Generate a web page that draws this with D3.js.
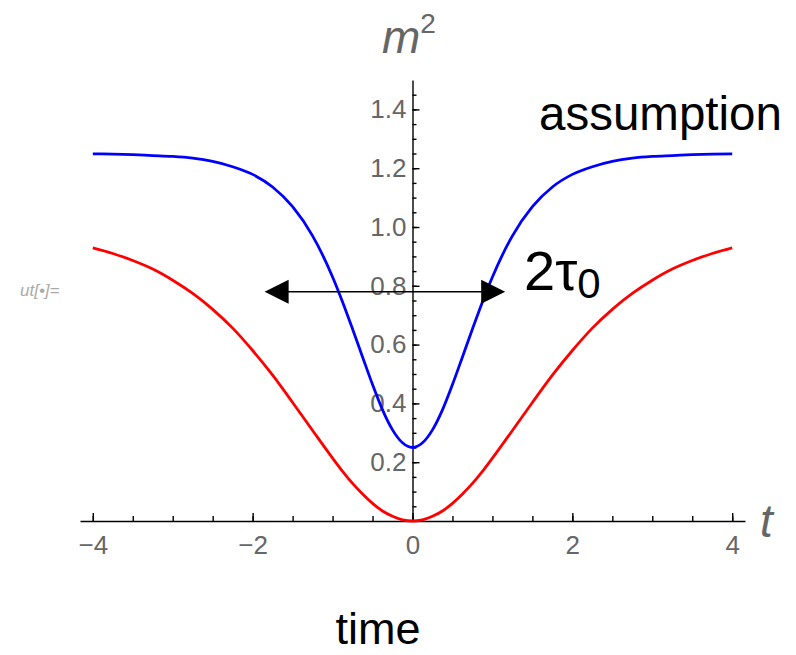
<!DOCTYPE html>
<html>
<head>
<meta charset="utf-8">
<script src="https://cdn.jsdelivr.net/npm/d3@7"></script>
<style>
  body { margin: 0; background: #fff; }
  svg { display: block; font-family: 'Liberation Sans', Arial, sans-serif; }
  .axis path, .axis line { stroke: #000; stroke-width: 1.4; }
  .axis text { fill: #666; font-size: 26px; font-family: 'Liberation Sans', Arial, sans-serif; }
</style>
</head>
<body>
<div id="chart"></div>
<script>
// values (denser samples around the dip)
var tValues = [-4, -3.75, -3.5, -3.25, -3, -2.75, -2.5, -2.25, -2, -1.75, -1.5, -1.25, -1,
    -0.875, -0.75, -0.625, -0.5, -0.375, -0.25, -0.125, 0, 0.125, 0.25, 0.375, 0.5, 0.625, 0.75, 0.875,
    1, 1.25, 1.5, 1.75, 2, 2.25, 2.5, 2.75, 3, 3.25, 3.5, 3.75, 4];
var blueValues = [1.249, 1.248, 1.246, 1.243, 1.24, 1.234, 1.223, 1.205, 1.179, 1.136, 1.069, 0.970, 0.830,
    0.745, 0.653, 0.558, 0.464, 0.378, 0.310, 0.266, 0.25, 0.266, 0.310, 0.378, 0.464, 0.558, 0.653, 0.745,
    0.830, 0.970, 1.069, 1.136, 1.179, 1.205, 1.223, 1.234, 1.24, 1.243, 1.246, 1.248, 1.249];
var redValues = [0.929, 0.910, 0.886, 0.857, 0.819, 0.774, 0.720, 0.656, 0.580, 0.496, 0.403, 0.308, 0.214,
    0.169, 0.128, 0.092, 0.060, 0.034, 0.016, 0.004, 0, 0.004, 0.016, 0.034, 0.060, 0.092, 0.128, 0.169,
    0.214, 0.308, 0.403, 0.496, 0.580, 0.656, 0.720, 0.774, 0.819, 0.857, 0.886, 0.910, 0.929];

var xMajorTicks = [-4, -2, 0, 2, 4];
var yMajorTicks = [0.2, 0.4, 0.6, 0.8, 1.0, 1.2, 1.4];

// the 2 tau_0 arrow
var arrowX = [-1.85, 1.16];
var arrowY = 0.78;

var w = 796, h = 655;

var svg = d3.select('#chart').append('svg')
    .attr('width', w)
    .attr('height', h);

var xScale = d3.scaleLinear()
    .domain([-4.16, 4.16])
    .range([80, 745]);

var yScale = d3.scaleLinear()
    .domain([0, 1.5])
    .range([521, 80]);

var fmtX = function(d) { return d < 0 ? '\u2212' + Math.abs(d) : String(d); };

// x axis: minor ticks then major ticks with labels
svg.append('g')
    .attr('class', 'axis')
    .attr('transform', 'translate(0,' + yScale(0) + ')')
    .call(d3.axisBottom(xScale)
        .tickValues(d3.range(-4, 4.01, 0.5))
        .tickSize(-5)
        .tickSizeOuter(0)
        .tickFormat(''));

svg.append('g')
    .attr('class', 'axis')
    .attr('transform', 'translate(0,' + yScale(0) + ')')
    .call(d3.axisBottom(xScale)
        .tickValues(xMajorTicks)
        .tickSize(-8)
        .tickSizeOuter(0)
        .tickPadding(15)
        .tickFormat(fmtX))
    .call(function(g) { g.select('.domain').remove(); });

// y axis
svg.append('g')
    .attr('class', 'axis')
    .attr('transform', 'translate(' + xScale(0) + ',0)')
    .call(d3.axisLeft(yScale)
        .tickValues(d3.range(0.05, 1.46, 0.05))
        .tickSize(-4)
        .tickSizeOuter(0)
        .tickFormat(''));

svg.append('g')
    .attr('class', 'axis')
    .attr('transform', 'translate(' + xScale(0) + ',0)')
    .call(d3.axisLeft(yScale)
        .tickValues(yMajorTicks)
        .tickSize(-7)
        .tickSizeOuter(0)
        .tickPadding(6)
        .tickFormat(d3.format('.1f')))
    .call(function(g) { g.select('.domain').remove(); });

var line = d3.line()
    .x(function(d) { return xScale(d[0]); })
    .y(function(d) { return yScale(d[1]); })
    .curve(d3.curveMonotoneX);

svg.append('path')
    .datum(d3.zip(tValues, redValues))
    .attr('fill', 'none')
    .attr('stroke', '#ff0000')
    .attr('stroke-width', 2.8)
    .attr('d', line);

svg.append('path')
    .datum(d3.zip(tValues, blueValues))
    .attr('fill', 'none')
    .attr('stroke', '#0000ff')
    .attr('stroke-width', 2.8)
    .attr('d', line);

// arrow
var ay = yScale(arrowY), ax0 = xScale(arrowX[0]), ax1 = xScale(arrowX[1]);
svg.append('line')
    .attr('x1', ax0 + 10).attr('x2', ax1 - 10)
    .attr('y1', ay).attr('y2', ay)
    .attr('stroke', '#000')
    .attr('stroke-width', 1.4);
svg.append('path')
    .attr('d', 'M' + ax0 + ',' + ay + 'L' + (ax0 + 24) + ',' + (ay - 12) + 'L' + (ax0 + 24) + ',' + (ay + 12) + 'Z')
    .attr('fill', '#000');
svg.append('path')
    .attr('d', 'M' + ax1 + ',' + ay + 'L' + (ax1 - 24) + ',' + (ay - 12) + 'L' + (ax1 - 24) + ',' + (ay + 12) + 'Z')
    .attr('fill', '#000');

// labels
var tau = svg.append('text')
    .attr('x', 524)
    .attr('y', 290)
    .attr('font-size', 56)
    .attr('fill', '#000');
tau.append('tspan').text('2\u03c4');
tau.append('tspan').attr('font-size', 42).attr('dy', 8).text('0');

svg.append('text')
    .attr('x', 539)
    .attr('y', 130)
    .attr('font-size', 47.5)
    .attr('fill', '#000')
    .text('assumption');

svg.append('text')
    .attr('x', 378)
    .attr('y', 644)
    .attr('text-anchor', 'middle')
    .attr('font-size', 45)
    .attr('fill', '#000')
    .text('time');

var mLab = svg.append('text')
    .attr('x', 382)
    .attr('y', 53)
    .attr('font-size', 46)
    .attr('font-style', 'italic')
    .attr('fill', '#666');
mLab.append('tspan').text('m');
mLab.append('tspan').attr('font-size', 28).attr('font-style', 'normal').attr('dy', -20).text('2');

svg.append('text')
    .attr('x', 760)
    .attr('y', 537)
    .attr('font-size', 46)
    .attr('font-style', 'italic')
    .attr('fill', '#666')
    .text('t');

svg.append('text')
    .attr('x', 20)
    .attr('y', 296)
    .attr('font-size', 17)
    .attr('font-style', 'italic')
    .attr('fill', '#aaa')
    .text('ut[\u2022]=');
</script>
</body>
</html>
